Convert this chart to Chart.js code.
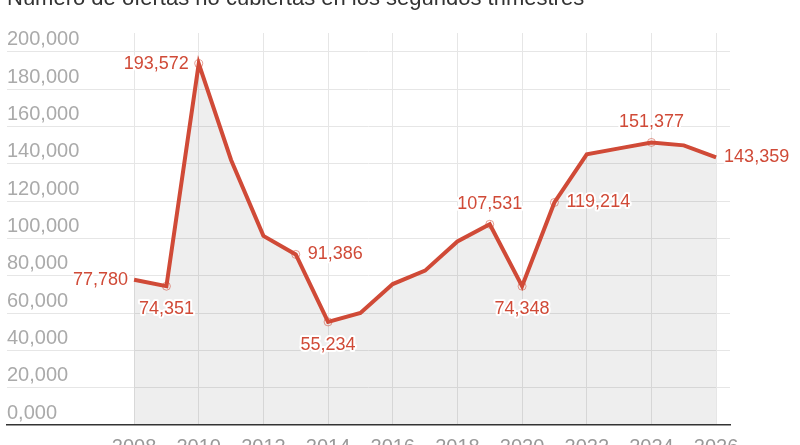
<!DOCTYPE html>
<html>
<head>
<meta charset="utf-8">
<script src="https://cdn.jsdelivr.net/npm/chart.js@4.4.1/dist/chart.umd.min.js"></script>
<style>
  html, body { margin: 0; padding: 0; background: #fff; }
  #wrap { position: relative; width: 800px; height: 445px; overflow: hidden; }
</style>
</head>
<body>
<div id="wrap"><canvas id="grafico" width="800" height="445"></canvas></div>
<script>
// datos: vacantes no cubiertas, segundo trimestre de cada año
const years = [2008, 2009, 2010, 2011, 2012, 2013, 2014, 2015, 2016, 2017,
               2018, 2019, 2020, 2021, 2022, 2023, 2024, 2025, 2026];
const vacantes = [77780, 74351, 193572, 142000, 101300, 91386, 55234, 60000, 75500, 82700,
                  98300, 107531, 74348, 119214, 145000, 148200, 151377, 149800, 143359];
const yTicks = [0, 20000, 40000, 60000, 80000, 100000, 120000, 140000, 160000, 180000, 200000];
const xTicks = [2008, 2010, 2012, 2014, 2016, 2018, 2020, 2022, 2024, 2026];
const titulo = 'Número de ofertas no cubiertas en los segundos trimestres';

// qué puntos llevan etiqueta y dónde va el texto
const etiquetas = {
  0: 'left', 1: 'below', 2: 'left', 5: 'right', 6: 'below',
  11: 'above', 12: 'below', 13: 'right', 16: 'above', 18: 'right'
};
const conAnillo = [1, 2, 5, 6, 11, 12, 13, 16];

const ROJO = '#d04a37';
const fuente = '"Liberation Sans", Arial, sans-serif';
const fmt = v => v.toLocaleString('en-US');

const puntos = years.map((y, i) => ({ x: y, y: vacantes[i] }));

const tituloPlugin = {
  id: 'tituloArriba',
  afterDraw(chart) {
    const ctx = chart.ctx;
    ctx.save();
    ctx.font = '22px ' + fuente;
    ctx.fillStyle = '#333';
    ctx.textBaseline = 'alphabetic';
    ctx.textAlign = 'left';
    ctx.fillText(titulo, 7, 5);
    ctx.restore();
  }
};

const etiquetasPlugin = {
  id: 'etiquetas',
  afterDatasetsDraw(chart) {
    const ctx = chart.ctx;
    const meta = chart.getDatasetMeta(0);
    ctx.save();
    ctx.font = '18px ' + fuente;
    ctx.textBaseline = 'middle';
    ctx.lineJoin = 'round';
    Object.keys(etiquetas).forEach(k => {
      const i = Number(k);
      const p = meta.data[i];
      const txt = fmt(vacantes[i]);
      const extra = conAnillo.includes(i) ? 4 : 0;
      let x = p.x, y = p.y;
      const pos = etiquetas[k];
      if (pos === 'left') { ctx.textAlign = 'right'; x -= 6 + extra; }
      else if (pos === 'right') { ctx.textAlign = 'left'; x += 8 + extra; }
      else if (pos === 'above') { ctx.textAlign = 'center'; y -= 20; }
      else { ctx.textAlign = 'center'; y += 23; }
      ctx.strokeStyle = '#fff';
      ctx.lineWidth = 4;
      ctx.strokeText(txt, x, y);
      ctx.fillStyle = ROJO;
      ctx.fillText(txt, x, y);
    });
    ctx.restore();
  }
};

const ctx = document.getElementById('grafico').getContext('2d');
new Chart(ctx, {
  type: 'line',
  data: {
    datasets: [{
      data: puntos,
      borderColor: ROJO,
      borderWidth: 4,
      backgroundColor: 'rgba(0,0,0,0.065)',
      fill: 'origin',
      tension: 0,
      pointRadius: years.map((y, i) => conAnillo.includes(i) ? 4 : 0),
      pointHoverRadius: 0,
      pointBackgroundColor: 'rgba(0,0,0,0)',
      pointBorderColor: 'rgba(208,74,55,0.55)',
      pointBorderWidth: 1
    }]
  },
  options: {
    responsive: false,
    animation: false,
    devicePixelRatio: 1,
    layout: { padding: { left: 7, right: 70, top: 33, bottom: 0 } },
    plugins: {
      legend: { display: false },
      tooltip: { enabled: false }
    },
    scales: {
      x: {
        type: 'linear',
        min: 2004.07,
        max: 2026.43,
        afterBuildTicks: s => { s.ticks = xTicks.map(v => ({ value: v })); },
        afterFit: s => { s.height = 20; },
        grid: { color: '#e6e6e6', drawTicks: false },
        border: { color: '#333', width: 1.5, z: 1 },
        ticks: {
          color: '#999',
          font: { family: fuente, size: 20 },
          padding: 10,
          maxRotation: 0,
          callback: v => String(v)
        }
      },
      y: {
        min: 0,
        max: 210000,
        afterBuildTicks: s => { s.ticks = yTicks.map(v => ({ value: v })); },
        afterFit: s => { s.width = 0; },
        grid: {
          color: c => c.tick && c.tick.value === 0 ? 'rgba(0,0,0,0)' : '#e6e6e6',
          drawTicks: false
        },
        border: { display: false },
        ticks: {
          mirror: true,
          padding: 0,
          labelOffset: -12,
          color: '#aaa',
          font: { family: fuente, size: 20 },
          callback: v => v === 0 ? '0,000' : fmt(v)
        }
      }
    }
  },
  plugins: [tituloPlugin, etiquetasPlugin]
});
</script>
</body>
</html>
